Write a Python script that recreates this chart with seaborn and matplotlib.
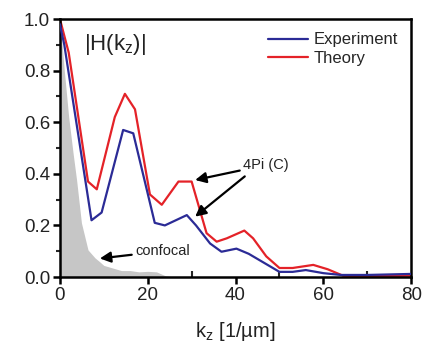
import seaborn as sns
import matplotlib.pyplot as plt
from matplotlib.ticker import MultipleLocator
import pandas as pd

# data
k_theory = [0, 2, 6.4, 8.4, 12.5, 14.8, 17.1, 20.5, 23.2, 27, 30, 33.4, 35.7,
            38, 42, 44, 47, 50, 53, 57.7, 61, 64.5, 70, 80]
h_theory = [1.0, 0.87, 0.37, 0.34, 0.62, 0.71, 0.65, 0.32, 0.28, 0.37, 0.37,
            0.17, 0.137, 0.15, 0.18, 0.15, 0.08, 0.035, 0.035, 0.047, 0.03,
            0.005, 0.003, 0.005]

k_exp = [0, 1, 7.2, 9.5, 14.4, 16.7, 21.6, 23.9, 28.9, 31, 34.2, 36.8, 40.2,
         43, 47, 50, 53, 56, 60, 64, 70, 80]
h_exp = [0.98, 0.9, 0.22, 0.25, 0.57, 0.557, 0.21, 0.20, 0.24, 0.2, 0.13,
         0.098, 0.11, 0.09, 0.05, 0.02, 0.02, 0.027, 0.015, 0.008, 0.008, 0.012]

k_conf = [0, 1, 2, 3, 3.8, 4.9, 6.4, 8, 9, 10, 12, 14, 16, 18, 20, 22, 24, 26]
h_conf = [1.0, 0.8, 0.62, 0.48, 0.376, 0.21, 0.105, 0.074, 0.06, 0.045, 0.035,
          0.025, 0.025, 0.02, 0.022, 0.02, 0.005, 0.0]

theory = pd.DataFrame({'k': k_theory, 'H': h_theory})
exp = pd.DataFrame({'k': k_exp, 'H': h_exp})

sns.set_theme(style='ticks')
plt.rcParams['font.family'] = ['Liberation Sans', 'DejaVu Sans']

fig = plt.figure(figsize=(4.31, 3.52), dpi=100)
ax = fig.add_axes([0.139, 0.213, 0.815, 0.733])

ax.fill_between(k_conf, h_conf, 0, color='#c6c6c6', lw=0, zorder=1)
sns.lineplot(data=exp, x='k', y='H', color='#2b2b96', lw=1.6,
             label='Experiment', ax=ax, zorder=3)
sns.lineplot(data=theory, x='k', y='H', color='#e42228', lw=1.6,
             label='Theory', ax=ax, zorder=2)

ax.set_xlim(0, 80)
ax.set_ylim(0, 1.0)
ax.xaxis.set_major_locator(MultipleLocator(20))
ax.xaxis.set_minor_locator(MultipleLocator(10))
ax.yaxis.set_major_locator(MultipleLocator(0.2))
ax.yaxis.set_minor_locator(MultipleLocator(0.1))
ax.yaxis.set_major_formatter(plt.FormatStrFormatter('%.1f'))
ax.tick_params(which='major', direction='out', length=5, width=1.8,
               labelsize=13.5, color='black', labelcolor='#222222', pad=2)
ax.tick_params(axis='x', which='minor', direction='in', length=4, width=1.5)
ax.tick_params(axis='y', which='minor', direction='out', length=3, width=1.5)

for s in ax.spines.values():
    s.set_linewidth(1.8)
    s.set_color('black')

ax.set_xlabel(r'$\mathregular{k_z}$ [1/µm]', fontsize=14.5, color='#222222',
              labelpad=12)
ax.set_ylabel('')

ax.text(0.07, 0.95, r'|H($\mathregular{k_z}$)|', transform=ax.transAxes,
        fontsize=16, va='top', ha='left', color='#222222')

leg = ax.legend(loc='upper right', frameon=False, fontsize=12,
                handlelength=2.4, handletextpad=0.3, labelspacing=0.2,
                borderaxespad=0.4)

arrow = dict(arrowstyle='-|>', color='black', lw=1.6, mutation_scale=16,
             shrinkA=0, shrinkB=0)
ax.annotate('4Pi (C)', xy=(30.8, 0.376), xytext=(41.7, 0.434),
            fontsize=10.5, va='center', ha='left', color='#222222',
            arrowprops=arrow)
ax.annotate('', xy=(30.8, 0.234), xytext=(42.1, 0.39), arrowprops=arrow)
ax.annotate('confocal', xy=(9.1, 0.072), xytext=(17.1, 0.1),
            fontsize=10.5, va='center', ha='left', color='#222222',
            arrowprops=arrow)

plt.savefig('out.png', dpi=100)
